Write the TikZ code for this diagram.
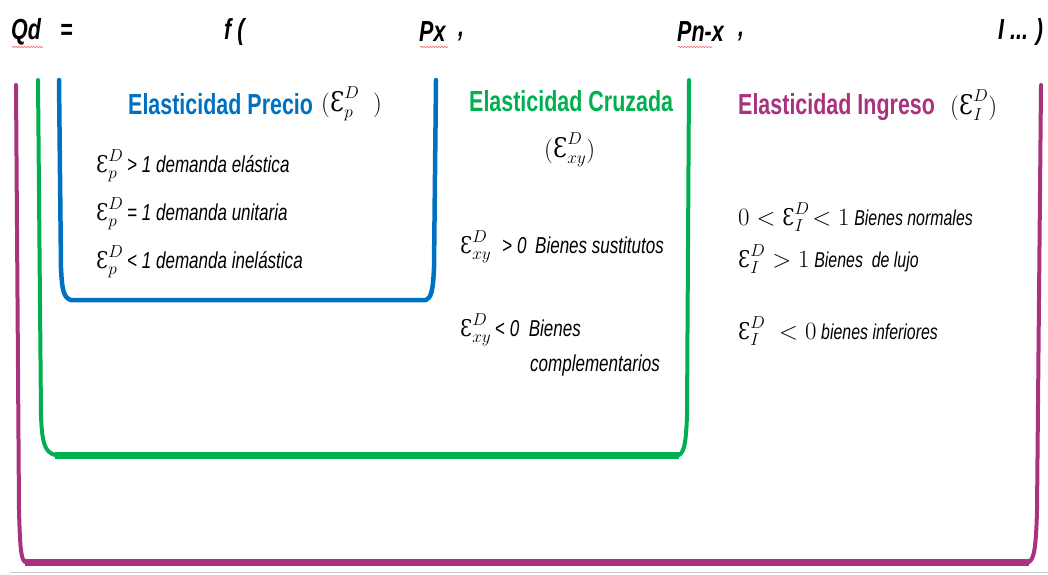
\documentclass[tikz,border=0pt]{standalone}
\usepackage[no-math]{fontspec}
\setmainfont{Liberation Sans}
\newfontfamily\nar{Liberation Sans}[FakeStretch=0.74]
\newfontfamily\epsf{DejaVu Serif}[FakeStretch=0.85]
\usetikzlibrary{decorations.pathmorphing}
\definecolor{cblue}{HTML}{0070C0}
\definecolor{cgreen}{HTML}{00B050}
\definecolor{cpurp}{HTML}{A9327F}
\newcommand\Eps[1]{\mbox{\upshape\mdseries\epsf Ɛ}^{D}_{#1}}
\tikzset{
  txt/.style={anchor=west,inner sep=0pt},
  topf/.style={txt,font=\nar\bfseries\itshape\fontsize{29}{32}\selectfont},
  ttl/.style={txt,font=\nar\bfseries\fontsize{29}{32}\selectfont},
  body/.style={txt,font=\nar\itshape\fontsize{23}{26}\selectfont},
  bodys/.style={txt,font=\nar\itshape\fontsize{21}{24}\selectfont},
  mth/.style={txt,font=\fontsize{27}{30}\selectfont},
  side/.style={line width=4pt,line join=round,line cap=round},
  bottom/.style={line width=7pt},
  squig/.style={draw=red!60,line width=0.6pt,decorate,decoration={snake,amplitude=0.8pt,segment length=3pt}}
}
\begin{document}
\begin{tikzpicture}[x=1pt,y=-1pt]
\useasboundingbox (0,0) rectangle (1048,574);
% brackets
\draw[side,cpurp] (16,85) -- (19,510) .. controls (20,548) and (21,559) .. (25,562) -- (1029,562) .. controls (1034,559) and (1036,548) .. (1037,510) -- (1041,85);
\draw[bottom,cpurp] (25,562) -- (1029,562);
\draw[side,cgreen] (38,80) -- (41,415) .. controls (42,444) and (45,452) .. (55,455) -- (679,455) .. controls (684,452) and (686,444) .. (687,415) -- (689,80);
\draw[bottom,cgreen] (55,455) -- (679,455);
\draw[side,cblue,line width=4.5pt] (59,80) -- (61,268) .. controls (62,291) and (64,298) .. (71,300) -- (426,300) .. controls (431,298) and (433,291) .. (434,268) -- (436,80);
\draw[black!20,line width=1pt] (10,572) -- (1048,572);
% top line
\node[topf] (qd) at (11,32) {Qd};
\node[topf] (eq) at (60,32) {=};
\node[topf] (f) at (224,32) {f (};
\node[topf] (px) at (419,32) {Px};
\node[topf] (c1) at (458,37) {,};
\node[topf] (pn) at (677,32) {Pn-x};
\node[topf] (c2) at (738,37) {,};
\node[topf] (ing) at (998,32) {I ... )};
\draw[squig] (12,47) -- (43,47);
\draw[squig] (420,47) -- (448,47);
\draw[squig] (678,47) -- (712,47);
% Precio
\node[ttl,cblue] (tp) at (128,104) {Elasticidad Precio};
\node[mth] (tpe) at (321,104) {$(\Eps{p}\;\;)$};
\node[body] (p1) at (96,166) {$\Eps{p}$\,> 1 demanda elástica};
\node[body] (p2) at (96,214) {$\Eps{p}$\,= 1 demanda unitaria};
\node[body] (p3) at (96,262) {$\Eps{p}$\,< 1 demanda inelástica};
% Cruzada
\node[ttl,cgreen] (tc) at (469,101) {Elasticidad Cruzada};
\node[mth] (tce) at (544,150) {$(\Eps{xy})$};
\node[body] (c1t) at (460,247) {$\Eps{xy}$\; \textup{>} 0 \,Bienes sustitutos};
\node[body] (c2t) at (460,330) {$\Eps{xy}$\,\textup{<} 0 \ Bienes};
\node[body] (c3t) at (530,366) {complementarios};
% Ingreso
\node[ttl,cpurp] (ti) at (738,107) {Elasticidad Ingreso};
\node[mth] (tie) at (950,105) {$(\Eps{I})$};
\node[bodys] (i1) at (738,217) {\fontsize{23}{26}\selectfont$0<\Eps{I}\!<1$ \fontsize{21.5}{24}\selectfont Bienes normales};
\node[bodys] (i2) at (738,259) {\fontsize{23}{26}\selectfont$\Eps{I}>1$ \fontsize{21.5}{24}\selectfont Bienes \ de lujo};
\node[bodys] (i3) at (738,331) {\fontsize{23}{26}\selectfont$\Eps{I}\;<0$ \fontsize{21.5}{24}\selectfont bienes inferiores};
\end{tikzpicture}
\end{document}
